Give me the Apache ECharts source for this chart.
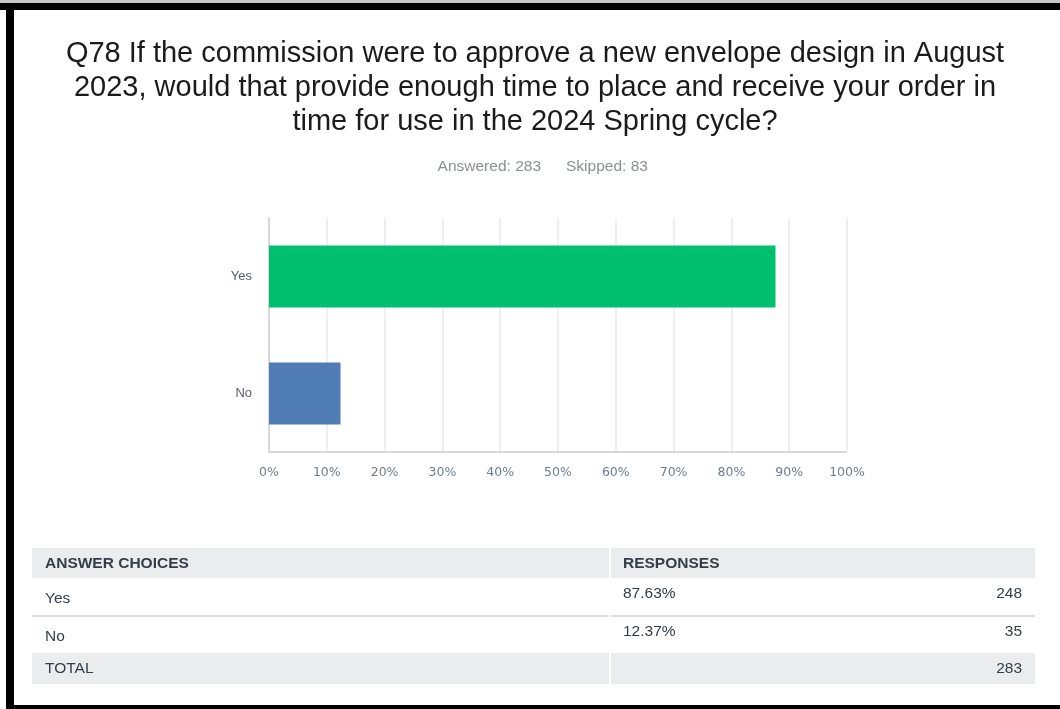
<!DOCTYPE html>
<html>
<head>
<meta charset="utf-8">
<script src="https://cdn.jsdelivr.net/npm/echarts@6/dist/echarts.min.js"></script>
<style>
  html, body { margin: 0; padding: 0; background: #fff; }
  #chart { width: 1060px; height: 709px; }
</style>
</head>
<body>
<div id="chart"></div>
<script>
// Survey question Q78: share of respondents per answer choice
const titleLines = [
  'Q78 If the commission were to approve a new envelope design in August',
  '2023, would that provide enough time to place and receive your order in',
  'time for use in the 2024 Spring cycle?'
];
const answered = 283;
const skipped = 83;
const categories = ['Yes', 'No'];
const percents = [87.63, 12.37];
const counts = [248, 35];
const total = 283;
const barColors = ['#00bf6f', '#507cb6'];
const tickValues = [0, 10, 20, 30, 40, 50, 60, 70, 80, 90, 100];

const chart = echarts.init(document.getElementById('chart'), null, { renderer: 'canvas' });

const font = '"Liberation Sans", Arial, sans-serif';
const textDark = '#333e48';
const tableFont = '15.5px ' + font;

// Table built from the same arrays as the bars
const tableLeft = 32, tableRight = 1035, colSplit = 610;
const headerTop = 548, headerH = 30;
const rowH = 38;
const graphics = [];

// Frame around the page
graphics.push(
  { type: 'rect', shape: { x: 0, y: 0, width: 1060, height: 3 }, style: { fill: '#c8c8c8' }, silent: true },
  { type: 'rect', shape: { x: 0, y: 3, width: 1060, height: 7 }, style: { fill: '#000' }, silent: true },
  { type: 'rect', shape: { x: 6, y: 3, width: 8, height: 706 }, style: { fill: '#000' }, silent: true },
  { type: 'rect', shape: { x: 6, y: 705, width: 1054, height: 4 }, style: { fill: '#000' }, silent: true }
);

// Title block
titleLines.forEach((line, i) => {
  graphics.push({
    type: 'text', x: 535, y: 54 + i * 34,
    style: { text: line, font: '29px ' + font, fill: '#1b1b1b', textAlign: 'center', textVerticalAlign: 'middle' },
    silent: true
  });
});
graphics.push(
  { type: 'text', x: 541, y: 167,
    style: { text: 'Answered: ' + answered, font: '15.5px ' + font, fill: '#8a8f94', textAlign: 'right', textVerticalAlign: 'middle' }, silent: true },
  { type: 'text', x: 566, y: 167,
    style: { text: 'Skipped: ' + skipped, font: '15.5px ' + font, fill: '#8a8f94', textAlign: 'left', textVerticalAlign: 'middle' }, silent: true }
);

// Header row
graphics.push(
  { type: 'rect', shape: { x: tableLeft, y: headerTop, width: colSplit - tableLeft - 1, height: headerH }, style: { fill: '#ebeced' }, silent: true },
  { type: 'rect', shape: { x: colSplit + 1, y: headerTop, width: tableRight - colSplit - 1, height: headerH }, style: { fill: '#ebeced' }, silent: true },
  { type: 'text', x: 45, y: headerTop + headerH / 2 + 1, style: { text: 'ANSWER CHOICES', font: 'bold ' + tableFont, fill: textDark, textVerticalAlign: 'middle' }, silent: true },
  { type: 'text', x: 623, y: headerTop + headerH / 2 + 1, style: { text: 'RESPONSES', font: 'bold ' + tableFont, fill: textDark, textVerticalAlign: 'middle' }, silent: true }
);

// Answer rows
categories.forEach((cat, i) => {
  const top = headerTop + headerH + i * rowH;
  graphics.push(
    { type: 'text', x: 45, y: top + 21, style: { text: cat, font: tableFont, fill: textDark, textVerticalAlign: 'middle' }, silent: true },
    { type: 'text', x: 623, y: top + 16, style: { text: percents[i].toFixed(2) + '%', font: tableFont, fill: textDark, textVerticalAlign: 'middle' }, silent: true },
    { type: 'text', x: 1022, y: top + 16, style: { text: String(counts[i]), font: tableFont, fill: textDark, textAlign: 'right', textVerticalAlign: 'middle' }, silent: true }
  );
  if (i < categories.length - 1) {
    graphics.push(
      { type: 'rect', shape: { x: tableLeft, y: top + rowH - 1, width: colSplit - tableLeft - 1, height: 2 }, style: { fill: '#dcdddf' }, silent: true },
      { type: 'rect', shape: { x: colSplit + 1, y: top + rowH - 1, width: tableRight - colSplit - 1, height: 2 }, style: { fill: '#dcdddf' }, silent: true }
    );
  }
});

// Total row
const totalTop = headerTop + headerH + categories.length * rowH - 1;
graphics.push(
  { type: 'rect', shape: { x: tableLeft, y: totalTop, width: colSplit - tableLeft - 1, height: 31 }, style: { fill: '#ebeced' }, silent: true },
  { type: 'rect', shape: { x: colSplit + 1, y: totalTop, width: tableRight - colSplit - 1, height: 31 }, style: { fill: '#ebeced' }, silent: true },
  { type: 'text', x: 45, y: totalTop + 16, style: { text: 'TOTAL', font: tableFont, fill: textDark, textVerticalAlign: 'middle' }, silent: true },
  { type: 'text', x: 1022, y: totalTop + 16, style: { text: String(total), font: tableFont, fill: textDark, textAlign: 'right', textVerticalAlign: 'middle' }, silent: true }
);

chart.setOption({
  animation: false,
  backgroundColor: '#fff',
  grid: { left: 269, right: 213, top: 218, bottom: 257, containLabel: false },
  xAxis: {
    type: 'value', min: 0, max: 100, interval: 10,
    axisLine: { show: false },
    axisTick: { show: false },
    axisLabel: {
      formatter: v => tickValues.includes(v) ? v + '%' : '',
      color: '#6f7d8a', fontSize: 12.5, fontFamily: '"DejaVu Sans", sans-serif',
      margin: 14, showMaxLabel: true, showMinLabel: true
    },
    splitLine: { show: true, lineStyle: { color: '#efefef', width: 2 } }
  },
  yAxis: {
    type: 'category', data: categories, inverse: true,
    axisLine: { show: true, lineStyle: { color: '#d8d8d8', width: 2 } },
    axisTick: { show: false },
    axisLabel: { color: '#555f69', fontSize: 13, fontFamily: font, margin: 17, padding: [4, 0, 0, 0] }
  },
  series: [{
    type: 'bar',
    barWidth: 62,
    data: percents.map((v, i) => ({ value: v, itemStyle: { color: barColors[i] } })),
    silent: true
  }, {
    // bottom baseline of the plot area
    type: 'line', data: [], silent: true,
    markLine: {
      symbol: 'none', silent: true, label: { show: false },
      lineStyle: { color: '#d8d8d8', width: 2, type: 'solid' },
      data: [[{ coord: [0, 'No'], y: 452 }, { coord: [100, 'No'], y: 452 }]]
    }
  }],
  graphic: graphics
});
</script>
</body>
</html>
